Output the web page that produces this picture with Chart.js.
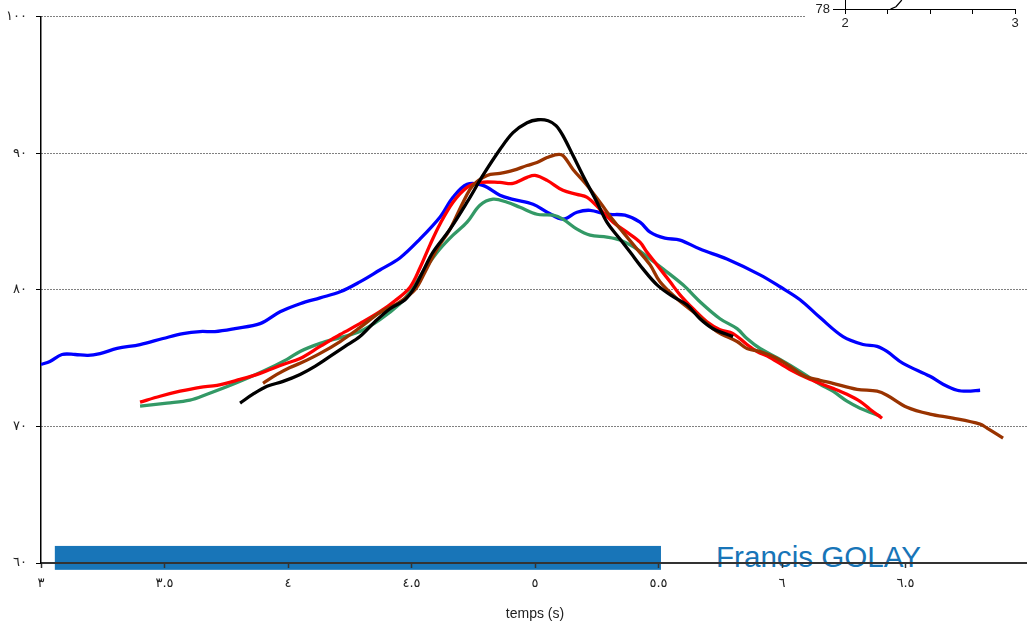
<!DOCTYPE html>
<html>
<head>
<meta charset="utf-8">
<title>temps (s)</title>
<script src="https://cdn.jsdelivr.net/npm/chart.js@4.4.1/dist/chart.umd.min.js"></script>
<style>
  html, body { margin: 0; padding: 0; background: #fff; overflow: hidden; }
  #wrap { position: relative; width: 1027px; height: 623px; overflow: hidden; }
  #main { position: absolute; left: 0; top: 0; z-index: 2; }
  #inset { position: absolute; left: 805px; top: -91px; z-index: 3; background: #fff; }
  #signature {
    position: absolute; left: 716px; top: 542px; z-index: 1;
    font: 29.6px/29px "Liberation Sans", Arial, sans-serif; color: #1875b8; white-space: nowrap;
  }
</style>
</head>
<body>
<div id="wrap">
  <div id="signature">Francis GOLAY</div>
  <canvas id="main" width="1040" height="623"></canvas>
  <canvas id="inset" width="222" height="121"></canvas>
</div>
<script>
"use strict";

// tick labels
const timeTicks = ['٣', '٣.٥', '٤', '٤.٥', '٥', '٥.٥', '٦', '٦.٥', ''];
const levelTicks = ['٦٠', '٧٠', '٨٠', '٩٠', '١٠٠'];

// series (time in s, value)
const blueT = [3.000, 3.036, 3.085, 3.138, 3.190, 3.239, 3.308, 3.401, 3.494, 3.575, 3.644, 3.704, 3.785, 3.887, 3.968,
  4.049, 4.130, 4.211, 4.291, 4.372, 4.453, 4.534, 4.615, 4.668, 4.725, 4.789, 4.858, 4.911, 4.992, 5.049, 5.113,
  5.170, 5.223, 5.291, 5.364, 5.425, 5.466, 5.526, 5.587, 5.668, 5.777, 5.911, 5.992, 6.073, 6.154, 6.247, 6.328,
  6.385, 6.425, 6.490, 6.599, 6.652, 6.709, 6.749, 6.802];
const blueV = [74.54, 74.76, 75.27, 75.27, 75.20, 75.34, 75.71, 76.00, 76.44, 76.80, 76.95, 76.95, 77.17, 77.53, 78.40,
  78.99, 79.42, 79.86, 80.59, 81.46, 82.34, 83.72, 85.32, 86.78, 87.73, 87.65, 86.93, 86.63, 86.27, 85.69, 85.18,
  85.69, 85.83, 85.54, 85.47, 84.96, 84.23, 83.79, 83.65, 82.99, 82.26, 81.10, 80.23, 79.28, 77.97, 76.58, 76.00,
  75.86, 75.49, 74.62, 73.67, 73.09, 72.65, 72.58, 72.65];

const redT = [3.401, 3.482, 3.563, 3.644, 3.713, 3.806, 3.887, 3.980, 4.049, 4.130, 4.211, 4.291, 4.372, 4.433, 4.494,
  4.534, 4.575, 4.615, 4.668, 4.725, 4.777, 4.858, 4.911, 4.968, 5.000, 5.049, 5.113, 5.170, 5.211, 5.263,
  5.316, 5.372, 5.425, 5.453, 5.494, 5.547, 5.587, 5.640, 5.696, 5.749, 5.802, 5.858, 5.899, 5.951, 6.032, 6.113,
  6.206, 6.263, 6.316, 6.356, 6.405];
const redV = [71.78, 72.21, 72.58, 72.87, 73.01, 73.45, 73.89, 74.54, 74.98, 75.86, 76.73, 77.53, 78.40, 79.20, 80.20,
  81.60, 83.30, 84.81, 86.42, 87.51, 87.87, 87.87, 87.80, 88.24, 88.38, 88.02, 87.29, 87.00, 86.78, 85.91,
  84.96, 84.23, 83.50, 82.77, 81.83, 80.59, 79.64, 78.62, 77.67, 77.09, 76.80, 76.00, 75.49, 75.05, 74.17, 73.45,
  72.79, 72.35, 71.84, 71.26, 70.60];

const greenT = [3.401, 3.510, 3.603, 3.672, 3.777, 3.899, 3.996, 4.049, 4.130, 4.211, 4.291, 4.372, 4.453, 4.494, 4.534,
  4.575, 4.615, 4.668, 4.725, 4.777, 4.830, 4.887, 4.939, 5.008, 5.073, 5.113, 5.170, 5.223, 5.291, 5.344, 5.413,
  5.466, 5.518, 5.599, 5.668, 5.749, 5.818, 5.858, 5.911, 5.992, 6.073, 6.154, 6.206, 6.263, 6.316, 6.397];
const greenV = [71.49, 71.71, 71.93, 72.36, 73.09, 74.04, 74.91, 75.49, 76.08, 76.51, 76.95, 77.82, 78.99, 79.86, 80.96,
  82.05, 83.00, 84.01, 84.96, 86.20, 86.64, 86.42, 86.05, 85.54, 85.47, 85.18, 84.45, 84.01, 83.87, 83.65, 82.99,
  82.26, 81.54, 80.37, 79.13, 77.89, 77.16, 76.44, 75.71, 74.91, 74.04, 73.09, 72.58, 71.85, 71.34, 70.76];

const brownT = [3.899, 3.955, 4.008, 4.049, 4.130, 4.211, 4.291, 4.372, 4.453, 4.514, 4.555, 4.603, 4.656, 4.709, 4.749,
  4.806, 4.858, 4.911, 4.968, 5.008, 5.049, 5.089, 5.113, 5.154, 5.211, 5.263, 5.316, 5.356, 5.413, 5.466, 5.506,
  5.575, 5.656, 5.737, 5.818, 5.858, 5.911, 5.972, 6.032, 6.093, 6.154, 6.206, 6.304, 6.385, 6.425, 6.506, 6.599,
  6.692, 6.802, 6.830, 6.895];
const brownV = [73.16, 73.81, 74.32, 74.62, 75.35, 76.22, 77.24, 78.33, 79.13, 80.01, 81.32, 82.99, 84.45, 86.42, 87.65,
  88.38, 88.53, 88.75, 89.11, 89.33, 89.69, 89.91, 89.84, 88.82, 87.65, 86.42, 85.11, 84.23, 82.99, 81.83, 80.59,
  79.35, 78.18, 76.95, 76.22, 75.71, 75.49, 75.05, 74.40, 73.67, 73.38, 73.16, 72.72, 72.58, 72.29, 71.41, 70.90,
  70.61, 70.17, 69.88, 69.15];

const blackT = [3.806, 3.858, 3.915, 3.980, 4.049, 4.109, 4.170, 4.231, 4.291, 4.352, 4.413, 4.474, 4.514, 4.555, 4.587,
  4.656, 4.725, 4.789, 4.858, 4.911, 4.968, 5.012, 5.053, 5.085, 5.113, 5.154, 5.194, 5.251, 5.291, 5.344, 5.385,
  5.437, 5.494, 5.559, 5.615, 5.668, 5.721, 5.802];
const blackV = [71.71, 72.36, 72.94, 73.30, 73.81, 74.40, 75.13, 75.86, 76.58, 77.67, 78.62, 79.28, 80.23, 81.68, 82.77,
  84.45, 86.42, 88.38, 90.28, 91.52, 92.24, 92.46, 92.39, 92.03, 91.30, 89.84, 88.38, 86.42, 84.96, 83.72, 82.77,
  81.54, 80.37, 79.50, 78.91, 77.89, 77.16, 76.58];

// blue band along the time axis
const bandTimes = [3.056, 5.51];
const bandLevels = [59.5, 61.25];

// clipped corner of the neighbouring chart
const insetTicks = ['2', '3'];
const insetLevels = ['78'];
const insetT = [2.268, 2.300, 2.330, 2.360];
const insetV = [78.00, 78.05, 78.18, 78.40];

function toPoints(ts, vs) {
    return ts.map((t, i) => ({ x: t, y: vs[i] }));
}

function line(ts, vs, color) {
    return {
        data: toPoints(ts, vs),
        borderColor: color,
        borderWidth: 3.3,
        pointRadius: 0,
        tension: 0.35,
        fill: false
    };
}

const bandPlugin = {
    id: 'band',
    beforeDraw(chart) {
        const { ctx, scales: { x, y } } = chart;
        const x0 = x.getPixelForValue(bandTimes[0]);
        const x1 = x.getPixelForValue(bandTimes[1]);
        const y0 = y.getPixelForValue(bandLevels[1]);
        const y1 = y.getPixelForValue(bandLevels[0]);
        ctx.save();
        ctx.fillStyle = '#1875b8';
        ctx.fillRect(x0, y0, x1 - x0, y1 - y0);
        ctx.restore();
    }
};

const tickFont = { family: "'DejaVu Sans', sans-serif", size: 13 };

new Chart(document.getElementById('main'), {
    type: 'line',
    data: {
        // first dataset is painted on top
        datasets: [
            line(blackT, blackV, '#000000'),
            line(brownT, brownV, '#993300'),
            line(redT, redV, '#ff0000'),
            line(greenT, greenV, '#339966'),
            line(blueT, blueV, '#0000ff')
        ]
    },
    options: {
        responsive: false,
        animation: false,
        layout: { padding: { top: 14, right: 11, left: 0, bottom: 0 } },
        plugins: { legend: { display: false }, tooltip: { enabled: false } },
        scales: {
            x: {
                type: 'linear',
                min: 3,
                max: 7,
                afterFit: s => { s.height = 60; },
                ticks: {
                    stepSize: 0.5,
                    autoSkip: false,
                    maxRotation: 0,
                    padding: 8,
                    color: '#222',
                    font: tickFont,
                    callback: v => timeTicks[Math.round((v - 3) * 2)] ?? ''
                },
                grid: { drawOnChartArea: false, tickLength: 5, tickColor: '#333', tickWidth: 1.5 },
                border: { color: '#333', width: 2 },
                title: {
                    display: true,
                    text: 'temps (s)',
                    color: '#222',
                    font: { family: "'Liberation Sans', Arial, sans-serif", size: 14 },
                    padding: { top: 0, bottom: 0 }
                }
            },
            y: {
                min: 60,
                max: 100,
                afterFit: s => { s.width = 41; },
                ticks: {
                    stepSize: 10,
                    padding: 9,
                    color: '#222',
                    font: tickFont,
                    callback: v => levelTicks[Math.round((v - 60) / 10)] ?? ''
                },
                grid: { color: '#000', lineWidth: 1, tickLength: 5, tickColor: '#000' },
                border: { color: '#000', width: 1.5, dash: [1, 2] }
            }
        }
    },
    plugins: [bandPlugin]
});

const insetFont = { family: "'Liberation Sans', Arial, sans-serif", size: 13 };

new Chart(document.getElementById('inset'), {
    type: 'line',
    data: {
        datasets: [{
            data: toPoints(insetT, insetV),
            borderColor: '#000',
            borderWidth: 1.3,
            pointRadius: 0,
            tension: 0
        }]
    },
    options: {
        responsive: false,
        animation: false,
        layout: { padding: { top: 0, right: 12, left: 0, bottom: 0 } },
        plugins: { legend: { display: false }, tooltip: { enabled: false } },
        scales: {
            x: {
                type: 'linear',
                min: 2,
                max: 3,
                afterFit: s => { s.height = 21; },
                ticks: {
                    stepSize: 0.25,
                    autoSkip: false,
                    maxRotation: 0,
                    padding: 2,
                    color: '#222',
                    font: insetFont,
                    callback: v => Number.isInteger(v) ? insetTicks[v - 2] : ''
                },
                grid: { drawOnChartArea: false, tickLength: 5, tickColor: '#000' },
                border: { color: '#000', width: 1 }
            },
            y: {
                min: 78,
                max: 80,
                afterFit: s => { s.width = 40; },
                ticks: {
                    stepSize: 2,
                    padding: 3,
                    color: '#222',
                    font: insetFont,
                    callback: v => v === 78 ? insetLevels[0] : ''
                },
                grid: { drawOnChartArea: false, tickLength: 12, tickColor: '#000' },
                border: { color: '#000', width: 1 }
            }
        }
    }
});
</script>
</body>
</html>
